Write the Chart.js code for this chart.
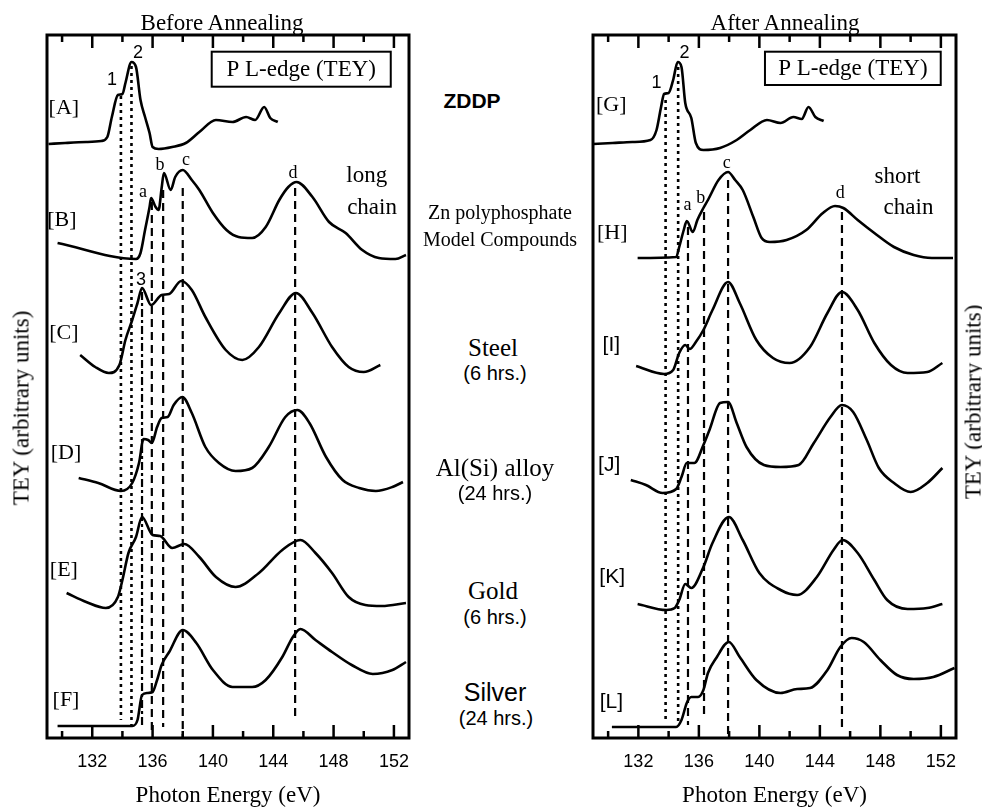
<!DOCTYPE html>
<html>
<head>
<meta charset="utf-8">
<script src="https://cdn.jsdelivr.net/npm/chart.js@4.4.0/dist/chart.umd.min.js"></script>
<style>
  body { margin: 0; background: #fff; width: 982px; height: 811px; position: relative; overflow: hidden; }
  #before { position: absolute; left: 0; top: 0; }
  #after { position: absolute; left: 560px; top: 0; }
  .lbl { position: absolute; transform: translate(-50%, -50%); white-space: nowrap; color: #000; line-height: 1; }
  .serif { font-family: "Liberation Serif", "Times New Roman", serif; }
  .sans { font-family: "Liberation Sans", Arial, sans-serif; }
  .vert { transform: translate(-50%, -50%) rotate(-90deg); }
</style>
</head>
<body>
<canvas id="before" width="440" height="811"></canvas>
<canvas id="after" width="422" height="811"></canvas>

<div class="lbl serif" style="left:222px;top:22px;font-size:23px">Before Annealing</div>
<div class="lbl serif" style="left:785px;top:22px;font-size:23px">After Annealing</div>
<div class="lbl serif vert" style="left:21px;top:408px;font-size:23px">TEY (arbitrary units)</div>
<div class="lbl serif vert" style="left:973px;top:402px;font-size:23px">TEY (arbitrary units)</div>

<div class="lbl sans" style="left:472px;top:100px;font-size:21px;font-weight:bold">ZDDP</div>
<div class="lbl serif" style="left:500px;top:212px;font-size:20px">Zn polyphosphate</div>
<div class="lbl serif" style="left:500px;top:239px;font-size:20px">Model Compounds</div>
<div class="lbl serif" style="left:493px;top:347px;font-size:25px">Steel</div>
<div class="lbl sans" style="left:495px;top:373px;font-size:20px">(6 hrs.)</div>
<div class="lbl serif" style="left:495px;top:467px;font-size:25px">Al(Si) alloy</div>
<div class="lbl sans" style="left:495px;top:493px;font-size:20px">(24 hrs.)</div>
<div class="lbl serif" style="left:493px;top:590px;font-size:25px">Gold</div>
<div class="lbl sans" style="left:495px;top:617px;font-size:20px">(6 hrs.)</div>
<div class="lbl sans" style="left:495px;top:692px;font-size:25px">Silver</div>
<div class="lbl sans" style="left:496px;top:718px;font-size:20px">(24 hrs.)</div>

<script>
// photon energy (eV) / TEY (arb. units, offset per trace)
// ---- before annealing ----
var energyA = [129.1,130.2,131.6,132.6,133.0,133.3,133.7,134.0,134.2,134.6,134.9,135.2,135.5,135.8,136.0,136.4,137.3,138.2,139.1,140.2,141.3,142.2,142.8,143.4,143.8,144.3];
var teyA    = [59.4,59.5,59.6,59.7,60.1,62.1,64.3,64.4,65.5,67.6,67.1,63.8,62.1,60.5,59.1,58.9,59.1,59.5,60.6,61.8,61.6,62.1,61.8,63.1,62.0,61.6];

var energyB = [129.7,134.9,135.2,135.5,135.8,135.9,136.2,136.4,136.6,136.75,137.2,137.5,138.0,138.6,139.1,140.0,140.9,141.7,142.6,143.5,144.4,145.0,145.55,146.6,147.7,148.8,149.9,151.0,152.1,152.8];
var teyB    = [49.5,47.9,48.5,50.8,53.1,54.0,53.1,52.8,55.0,56.5,54.8,56.1,56.8,55.8,54.8,52.5,50.8,50.1,50.0,51.1,53.8,55.1,55.6,54.1,51.6,50.5,48.8,48.0,47.9,48.3];

var energyC = [131.2,132.2,133.1,133.8,134.2,134.65,135.0,135.3,135.9,136.6,137.1,137.9,138.6,139.5,140.85,141.95,143.05,144.4,145.5,146.6,147.9,149.0,150.0,151.1];
var teyC    = [38.3,37.1,36.5,37.3,39.8,41.8,43.5,45.0,43.3,44.3,44.4,45.7,44.8,42.1,38.8,37.8,39.1,42.5,44.5,42.5,39.1,37.1,36.6,37.3];

var energyD = [131.1,132.4,133.9,134.65,135.1,135.4,135.7,135.95,136.3,136.6,137.0,137.4,137.97,138.6,139.5,140.4,141.5,142.6,143.7,144.8,145.6,146.4,147.5,148.6,149.7,150.8,151.9,152.6];
var teyD    = [26.0,25.5,24.7,25.5,27.5,29.9,29.8,29.5,31.1,32.0,32.1,33.3,34.1,32.5,29.1,27.5,26.7,27.0,29.1,32.1,32.8,31.5,28.1,25.8,25.0,24.7,25.1,25.6];

var energyE = [130.3,131.6,132.9,133.7,134.0,134.4,134.9,135.3,136.0,136.5,137.3,138.1,139.1,140.2,141.5,143.05,144.6,145.8,146.8,147.9,149.0,150.1,151.2,152.8];
var teyE    = [14.5,13.6,13.0,14.1,15.8,18.5,20.1,22.1,20.3,20.2,19.0,19.4,18.1,16.1,15.1,16.5,18.8,19.8,18.5,16.5,14.1,13.3,13.2,13.5];

var energyF = [129.7,134.65,135.0,135.3,135.65,136.0,136.3,136.6,137.1,138.0,138.9,140.0,141.3,142.6,143.5,144.6,145.3,145.8,146.8,147.9,149.2,150.6,151.9,152.8];
var teyF    = [1.2,1.2,1.8,4.3,4.5,4.6,5.8,7.3,8.6,10.8,9.5,6.8,5.1,5.1,5.8,8.1,10.1,10.9,9.8,8.6,7.3,6.4,6.8,7.6];

// ---- after annealing ----
var energyG = [129.0,130.3,131.6,132.8,133.2,133.5,133.7,134.0,134.3,134.6,134.85,135.1,135.5,135.8,136.3,137.4,138.5,139.4,140.5,141.4,142.25,142.8,143.25,143.7,144.25];
var teyG    = [59.4,59.5,59.6,59.8,60.8,63.1,64.4,64.5,65.8,67.6,67.1,63.5,62.0,59.5,58.8,59.0,59.8,60.8,61.8,61.5,62.1,61.9,63.1,62.1,61.7];

var energyH = [131.95,134.5,134.7,135.0,135.2,135.6,135.9,136.3,136.6,137.3,137.93,138.4,138.9,139.6,140.15,140.7,141.8,143.1,144.2,145.0,145.55,146.5,147.6,148.9,150.2,151.4,152.8];
var teyH    = [48.0,48.1,49.1,50.8,51.7,50.6,51.8,53.0,53.8,55.8,56.6,55.8,54.8,52.1,50.0,49.6,49.8,50.8,52.5,53.2,53.0,51.8,50.5,49.1,48.3,48.0,48.0];

var energyI = [131.85,133.7,134.3,134.7,135.1,135.4,135.8,136.3,136.9,137.93,138.7,139.8,140.9,142.0,143.35,144.5,145.46,146.5,147.6,148.7,149.8,151.1,152.1];
var teyI    = [37.2,36.4,36.8,38.5,39.3,38.9,39.6,40.8,42.8,45.6,43.5,39.8,38.0,37.5,39.1,42.5,44.6,42.8,39.5,37.3,36.5,36.6,37.5];

var energyJ = [131.5,132.5,133.6,134.5,134.85,135.2,135.7,136.3,136.7,137.4,137.93,138.5,139.15,140.3,141.4,142.6,143.6,144.7,145.46,146.2,147.1,147.9,148.9,150.0,151.1,152.1];
var teyJ    = [25.8,25.3,24.5,24.9,26.1,27.5,27.5,29.3,30.8,33.5,33.6,31.5,29.1,27.3,27.1,27.3,29.5,32.1,33.3,32.6,29.8,27.0,25.5,24.6,25.5,27.0];

var energyK = [131.95,133.85,134.4,134.7,135.1,135.5,136.3,136.9,137.98,138.9,140.0,141.4,142.5,143.8,144.9,145.5,146.5,147.6,148.45,149.8,151.1,152.1];
var teyK    = [13.4,12.8,13.0,13.8,15.4,15.0,17.1,19.5,22.1,19.8,16.5,14.8,14.3,16.1,18.8,19.8,18.5,15.8,13.8,12.9,13.0,13.4];

var energyL = [130.25,134.5,134.85,135.2,135.5,135.95,136.3,136.6,137.15,137.98,138.7,139.8,141.4,142.5,143.35,144.5,145.35,146.1,146.9,148.0,149.1,150.2,151.5,152.9];
var teyL    = [1.1,1.1,1.8,3.5,4.1,4.1,4.8,6.5,8.0,9.6,8.1,5.8,4.5,4.9,5.0,6.8,9.1,10.0,9.6,7.8,6.3,5.9,6.1,7.0];

// peak marker lines: energy, top and bottom of each line
var beforeMarkE   = [133.9, 134.6, 135.3, 135.95, 136.7, 138.0, 145.45];
var beforeMarkTop = [64.2, 67.2, 44.6, 53.6, 54.8, 55.0, 55.0];
var beforeMarkBot = [1.8, 1.1, 1.1, 0.3, 1.1, 0, 1.8];
var afterMarkE    = [133.8, 134.63, 135.28, 136.34, 137.93, 145.46];
var afterMarkTop  = [63.8, 67.1, 51.1, 52.6, 55.8, 52.6];
var afterMarkBot  = [1.8, 1.5, 1.3, 2.1, 0, 1.0];

var tickLabels = [132, 136, 140, 144, 148, 152];
var tickMarks  = [130, 132, 134, 136, 138, 140, 142, 144, 146, 148, 150, 152];

var SERIF = '"Liberation Serif", "Times New Roman", serif';
var SANS  = '"Liberation Sans", Arial, sans-serif';
var DOT = [3, 4], DASH = [8, 5], DASHDOT = [8, 3, 3, 3];

function pts(xs, ys) {
  return xs.map(function (v, i) { return { x: v, y: ys[i] }; });
}

function curve(xs, ys) {
  return {
    data: pts(xs, ys),
    borderColor: "#000",
    borderWidth: 2.6,
    pointRadius: 0,
    fill: false,
    cubicInterpolationMode: "monotone"
  };
}

function markers(es, tops, bots, dashes) {
  return es.map(function (e, i) {
    return {
      data: [{ x: e, y: tops[i] }, { x: e, y: bots[i] }],
      borderColor: "#000",
      borderWidth: dashes[i] === DOT ? 2.6 : 2.2,
      borderDash: dashes[i],
      pointRadius: 0,
      fill: false
    };
  });
}

// frame, inward ticks, in-plot labels and the legend box
var framePlugin = {
  id: "frame",
  afterDraw: function (chart, args, opts) {
    var ctx = chart.ctx, a = chart.chartArea;
    var xs = chart.scales.x, ys = chart.scales.y;
    ctx.save();
    ctx.strokeStyle = "#000";
    ctx.lineWidth = 3;
    ctx.setLineDash([]);
    ctx.strokeRect(a.left, a.top, a.right - a.left, a.bottom - a.top);

    ctx.lineWidth = 2.5;
    tickMarks.forEach(function (v) {
      var px = xs.getPixelForValue(v);
      var len = v % 4 === 0 ? 13 : 7;
      ctx.beginPath();
      ctx.moveTo(px, a.bottom); ctx.lineTo(px, a.bottom - len);
      ctx.moveTo(px, a.top); ctx.lineTo(px, a.top + len);
      ctx.stroke();
    });

    var b = opts.box;
    var bx0 = xs.getPixelForValue(b.x0), bx1 = xs.getPixelForValue(b.x1);
    var by0 = ys.getPixelForValue(b.y0), by1 = ys.getPixelForValue(b.y1);
    ctx.fillStyle = "#fff";
    ctx.fillRect(bx0, by0, bx1 - bx0, by1 - by0);
    ctx.lineWidth = 2;
    ctx.strokeRect(bx0, by0, bx1 - bx0, by1 - by0);

    ctx.fillStyle = "#000";
    ctx.textAlign = "center";
    ctx.textBaseline = "middle";
    ctx.font = "23px " + SERIF;
    ctx.fillText(b.text, (bx0 + bx1) / 2, (by0 + by1) / 2 + 1);

    opts.labels.forEach(function (l) {
      ctx.font = l.font;
      ctx.fillText(l.text, xs.getPixelForValue(l.x), ys.getPixelForValue(l.y));
    });
    ctx.restore();
  }
};

function makeChart(id, datasets, padLeft, padRight, box, labels) {
  return new Chart(document.getElementById(id).getContext("2d"), {
    type: "line",
    data: { datasets: datasets },
    options: {
      responsive: false,
      animation: false,
      devicePixelRatio: 1,
      layout: { padding: { left: padLeft, right: padRight, top: 35, bottom: 0 } },
      plugins: {
        legend: { display: false },
        tooltip: { enabled: false },
        frame: { box: box, labels: labels }
      },
      scales: {
        x: {
          type: "linear",
          min: 129,
          max: 153,
          afterBuildTicks: function (s) {
            s.ticks = tickLabels.map(function (v) { return { value: v }; });
          },
          afterFit: function (s) { s.height = 73; },
          ticks: { color: "#000", padding: 13, maxRotation: 0, font: { family: SANS, size: 18 } },
          grid: { display: false, drawTicks: false },
          border: { display: false },
          title: {
            display: true,
            text: "Photon Energy (eV)",
            color: "#000",
            font: { family: SERIF, size: 23 },
            padding: { top: 0, bottom: 1 }
          }
        },
        y: { type: "linear", min: 0, max: 70.3, display: false }
      }
    },
    plugins: [framePlugin]
  });
}

var beforeSets = [
  curve(energyA, teyA), curve(energyB, teyB), curve(energyC, teyC),
  curve(energyD, teyD), curve(energyE, teyE), curve(energyF, teyF)
].concat(markers(beforeMarkE, beforeMarkTop, beforeMarkBot, [DOT, DOT, DASHDOT, DASH, DASH, DASH, DASH]));

var afterSets = [
  curve(energyG, teyG), curve(energyH, teyH), curve(energyI, teyI),
  curve(energyJ, teyJ), curve(energyK, teyK), curve(energyL, teyL)
].concat(markers(afterMarkE, afterMarkTop, afterMarkBot, [DOT, DOT, DASH, DASH, DASH, DASH]));

var F_TAG = "22px " + SERIF, F_TAGS = "21px " + SANS, F_NUM = "18px " + SANS,
    F_PK = "18px " + SERIF, F_TXT = "23px " + SERIF;

makeChart("before", beforeSets, 47, 31,
  { x0: 139.92, x1: 151.79, y0: 68.63, y1: 65.13, text: "P L-edge (TEY)" },
  [
    { text: "[A]", x: 130.12, y: 63.0, font: F_TAG },
    { text: "[B]", x: 129.99, y: 51.8, font: F_TAG },
    { text: "[C]", x: 130.12, y: 40.5, font: F_TAG },
    { text: "[D]", x: 130.26, y: 28.5, font: F_TAG },
    { text: "[E]", x: 130.12, y: 16.8, font: F_TAG },
    { text: "[F]", x: 130.26, y: 3.8, font: F_TAG },
    { text: "1", x: 133.31, y: 65.8, font: F_NUM },
    { text: "2", x: 135.03, y: 68.5, font: F_NUM },
    { text: "3", x: 135.23, y: 45.8, font: F_NUM },
    { text: "a", x: 135.36, y: 54.6, font: F_PK },
    { text: "b", x: 136.49, y: 57.3, font: F_PK },
    { text: "c", x: 138.21, y: 57.8, font: F_PK },
    { text: "d", x: 145.31, y: 56.5, font: F_PK },
    { text: "long", x: 150.2, y: 56.2, font: F_TXT },
    { text: "chain", x: 150.55, y: 53.0, font: F_TXT }
  ]);

makeChart("after", afterSets, 33, 26,
  { x0: 140.37, x1: 151.99, y0: 68.63, y1: 65.3, text: "P L-edge (TEY)" },
  [
    { text: "[G]", x: 130.21, y: 63.3, font: F_TAG },
    { text: "[H]", x: 130.27, y: 50.5, font: F_TAG },
    { text: "[I]", x: 130.21, y: 39.3, font: F_TAGS },
    { text: "[J]", x: 130.07, y: 27.3, font: F_TAGS },
    { text: "[K]", x: 130.27, y: 16.1, font: F_TAGS },
    { text: "[L]", x: 130.21, y: 3.6, font: F_TAGS },
    { text: "1", x: 133.2, y: 65.5, font: F_NUM },
    { text: "2", x: 135.05, y: 68.5, font: F_NUM },
    { text: "a", x: 135.25, y: 53.3, font: F_PK },
    { text: "b", x: 136.12, y: 54.0, font: F_PK },
    { text: "c", x: 137.84, y: 57.5, font: F_PK },
    { text: "d", x: 145.35, y: 54.5, font: F_PK },
    { text: "short", x: 149.13, y: 56.1, font: F_TXT },
    { text: "chain", x: 149.86, y: 53.0, font: F_TXT }
  ]);
</script>
</body>
</html>
